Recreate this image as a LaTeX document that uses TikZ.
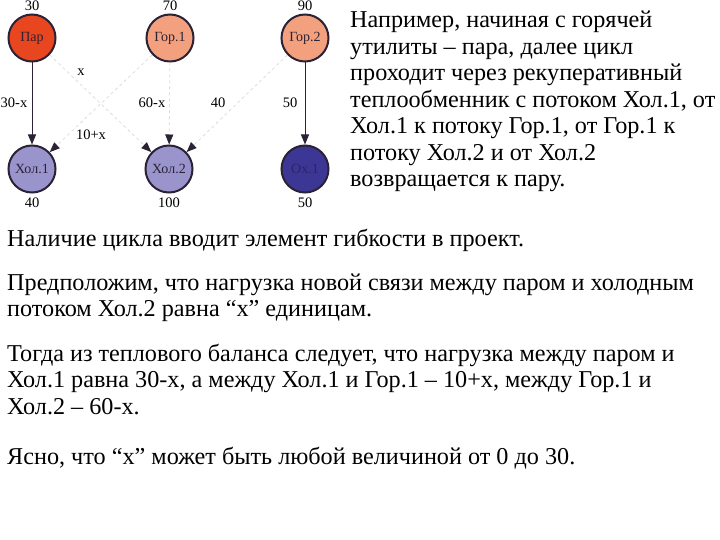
\documentclass[tikz,border=0pt]{standalone}
\usepackage{fontspec}
\setmainfont{Liberation Serif}
\usetikzlibrary{arrows.meta}
\definecolor{parc}{HTML}{E8461E}
\definecolor{gorc}{HTML}{F2A07E}
\definecolor{holc}{HTML}{9A94CC}
\definecolor{ohc}{HTML}{3C3694}
\definecolor{rimc}{HTML}{2B2235}
\definecolor{faintc}{HTML}{DDDDDD}
\begin{document}
\begin{tikzpicture}[x=1pt,y=-1pt,
  stream/.style={circle,draw=rimc,line width=2pt,minimum size=47pt,inner sep=0pt,
    font=\fontsize{14}{14}\selectfont,text=rimc},
  lbl/.style={inner sep=0pt,font=\fontsize{14.5}{14.5}\selectfont},
  txt/.style={anchor=base west,inner sep=0pt,font=\fontsize{24.2}{26.5}\selectfont},
  solidarr/.style={draw=rimc,line width=1pt,-{Triangle[length=10pt,width=8pt]}},
  faintarr/.style={draw=faintc,line width=0.8pt,dashed,
    -{Triangle[length=10pt,width=8pt,color=rimc,fill=rimc]}}]
\useasboundingbox[fill=white] (0,0) rectangle (720,540);
% streams
\node[stream,fill=parc] (par) at (32,38) {Пар};
\node[stream,fill=gorc] (g1) at (170,38) {Гор.1};
\node[stream,fill=gorc] (g2) at (305,38) {Гор.2};
\node[stream,fill=holc] (h1) at (32,169) {Хол.1};
\node[stream,fill=holc] (h2) at (169,169) {Хол.2};
\node[stream,fill=ohc,text=ohc!70!black] (oh) at (305,169) {Ох.1};
% loads
\node[lbl] (t1) at (32,6) {30};
\node[lbl] (t2) at (170,6) {70};
\node[lbl] (t3) at (305,6) {90};
\node[lbl] (b1) at (32,203) {40};
\node[lbl] (b2) at (169,203) {100};
\node[lbl] (b3) at (305,203) {50};
% connectors
\draw[solidarr] (par) -- (h1);
\draw[solidarr] (g2) -- (oh);
\draw[faintarr] (par) -- (h2);
\draw[faintarr] (g1) -- (h1);
\draw[faintarr] (g1) -- (h2);
\draw[faintarr] (g2) -- (h2);
% edge labels
\node[lbl] (e1) at (14,103) {30-x};
\node[lbl] (e2) at (81,72) {x};
\node[lbl] (e3) at (91,135) {10+x};
\node[lbl] (e4) at (152,103) {60-x};
\node[lbl] (e5) at (218,103) {40};
\node[lbl] (e6) at (290,103) {50};
% right text
\node[txt] (r1) at (350,28) {Например, начиная с горячей};
\node[txt] (r2) at (350,54.5) {утилиты – пара, далее цикл};
\node[txt] (r3) at (350,81) {проходит через рекуперативный};
\node[txt] (r4) at (350,107.5) {теплообменник с потоком Хол.1, от};
\node[txt] (r5) at (350,134) {Хол.1 к потоку Гор.1, от Гор.1 к};
\node[txt] (r6) at (350,160.5) {потоку Хол.2 и от Хол.2};
\node[txt] (r7) at (350,187) {возвращается к пару.};
% lower text
\node[txt] (p1) at (7,247) {Наличие цикла вводит элемент гибкости в проект.};
\node[txt] (p2) at (7,290) {Предположим, что нагрузка новой связи между паром и холодным};
\node[txt] (p3) at (7,316.5) {потоком Хол.2 равна “x” единицам.};
\node[txt] (p4) at (7,361) {Тогда из теплового баланса следует, что нагрузка между паром и};
\node[txt] (p5) at (7,387.5) {Хол.1 равна 30-х, а между Хол.1 и Гор.1 – 10+х, между Гор.1 и};
\node[txt] (p6) at (7,414) {Хол.2 – 60-х.};
\node[txt] (p7) at (7,464) {Ясно, что “x” может быть любой величиной от 0 до 30.};
\end{tikzpicture}
\end{document}
